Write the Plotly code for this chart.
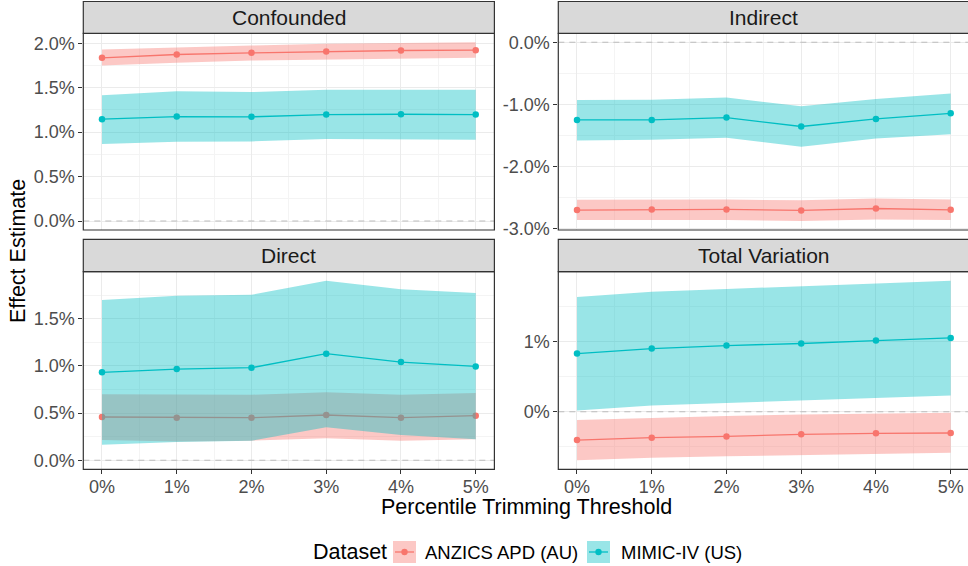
import plotly.graph_objects as go

# ---------------- data (effect estimates in %) ----------------
thresholds = [0, 1, 2, 3, 4, 5]
x_tick_labels = ["0%", "1%", "2%", "3%", "4%", "5%"]
datasets = ["ANZICS APD (AU)", "MIMIC-IV (US)"]
panels = ["Confounded", "Indirect", "Direct", "Total Variation"]

# Confounded
conf_anzics_est = [1.836, 1.873, 1.892, 1.907, 1.918, 1.922]
conf_anzics_lo = [1.750, 1.780, 1.806, 1.817, 1.828, 1.836]
conf_anzics_hi = [1.929, 1.955, 1.974, 1.993, 2.004, 2.011]
conf_mimic_est = [1.146, 1.175, 1.172, 1.198, 1.201, 1.198]
conf_mimic_lo = [0.866, 0.892, 0.896, 0.922, 0.922, 0.914]
conf_mimic_hi = [1.414, 1.459, 1.451, 1.478, 1.478, 1.478]

# Indirect
ind_anzics_est = [-2.702, -2.691, -2.691, -2.707, -2.676, -2.697]
ind_anzics_lo = [-2.862, -2.856, -2.862, -2.878, -2.851, -2.862]
ind_anzics_hi = [-2.537, -2.532, -2.532, -2.543, -2.516, -2.532]
ind_mimic_est = [-1.250, -1.250, -1.213, -1.356, -1.234, -1.144]
ind_mimic_lo = [-1.580, -1.569, -1.537, -1.681, -1.548, -1.479]
ind_mimic_hi = [-0.931, -0.926, -0.888, -1.032, -0.915, -0.824]

# Direct
dir_anzics_est = [0.459, 0.452, 0.452, 0.480, 0.452, 0.473]
dir_anzics_lo = [0.215, 0.200, 0.208, 0.233, 0.208, 0.222]
dir_anzics_hi = [0.699, 0.695, 0.695, 0.720, 0.695, 0.713]
dir_mimic_est = [0.932, 0.967, 0.981, 1.130, 1.041, 0.995]
dir_mimic_lo = [0.166, 0.194, 0.208, 0.349, 0.268, 0.222]
dir_mimic_hi = [1.698, 1.744, 1.754, 1.903, 1.811, 1.772]

# Total Variation
tv_anzics_est = [-0.403, -0.370, -0.351, -0.322, -0.308, -0.303]
tv_anzics_lo = [-0.692, -0.654, -0.635, -0.611, -0.597, -0.583]
tv_anzics_hi = [-0.118, -0.085, -0.062, -0.038, -0.024, -0.014]
tv_mimic_est = [0.829, 0.900, 0.943, 0.972, 1.014, 1.052]
tv_mimic_lo = [0.019, 0.090, 0.128, 0.156, 0.199, 0.232]
tv_mimic_hi = [1.635, 1.711, 1.749, 1.791, 1.834, 1.867]

# y tick labels per panel
conf_ticks = [0.0, 0.5, 1.0, 1.5, 2.0]
conf_tick_labels = ["0.0%", "0.5%", "1.0%", "1.5%", "2.0%"]
ind_ticks = [-3.0, -2.0, -1.0, 0.0]
ind_tick_labels = ["-3.0%", "-2.0%", "-1.0%", "0.0%"]
dir_ticks = [0.0, 0.5, 1.0, 1.5]
dir_tick_labels = ["0.0%", "0.5%", "1.0%", "1.5%"]
tv_ticks = [0.0, 1.0]
tv_tick_labels = ["0%", "1%"]

# ---------------- styling ----------------
W, H = 968, 566
colors = {"ANZICS APD (AU)": "#F8766D", "MIMIC-IV (US)": "#00BFC4"}
fills = {"ANZICS APD (AU)": "rgba(248,118,109,0.4)", "MIMIC-IV (US)": "rgba(0,191,196,0.4)"}
FONT = "Liberation Sans, Arial, sans-serif"

panel_data = {
    "Confounded": {
        "ANZICS APD (AU)": (conf_anzics_est, conf_anzics_lo, conf_anzics_hi),
        "MIMIC-IV (US)": (conf_mimic_est, conf_mimic_lo, conf_mimic_hi),
        "ticks": (conf_ticks, conf_tick_labels),
    },
    "Indirect": {
        "ANZICS APD (AU)": (ind_anzics_est, ind_anzics_lo, ind_anzics_hi),
        "MIMIC-IV (US)": (ind_mimic_est, ind_mimic_lo, ind_mimic_hi),
        "ticks": (ind_ticks, ind_tick_labels),
    },
    "Direct": {
        "ANZICS APD (AU)": (dir_anzics_est, dir_anzics_lo, dir_anzics_hi),
        "MIMIC-IV (US)": (dir_mimic_est, dir_mimic_lo, dir_mimic_hi),
        "ticks": (dir_ticks, dir_tick_labels),
    },
    "Total Variation": {
        "ANZICS APD (AU)": (tv_anzics_est, tv_anzics_lo, tv_anzics_hi),
        "MIMIC-IV (US)": (tv_mimic_est, tv_mimic_lo, tv_mimic_hi),
        "ticks": (tv_ticks, tv_tick_labels),
    },
}

def px(xp):
    return xp / W

def py(yp):
    return 1 - yp / H

x_dom = {"L": [px(83.3), px(494.4)], "R": [px(558.3), 1.0]}
y_dom = {"T": [py(230.0), py(33.3)], "B": [py(469.3), py(271.7)]}
px_per_unit = 74.74
x_range = {"L": [-0.25, 5.25], "R": [-0.25, -0.25 + (W - 558.3) / px_per_unit]}

layout_pos = {
    "Confounded": ("L", "T", 1),
    "Indirect": ("R", "T", 2),
    "Direct": ("L", "B", 3),
    "Total Variation": ("R", "B", 4),
}

fig = go.Figure()
shapes = []
annotations = []

for name in panels:
    col, row, n = layout_pos[name]
    xa = "x" if n == 1 else f"x{n}"
    ya = "y" if n == 1 else f"y{n}"
    d = panel_data[name]
    # lines + points first
    for ds in datasets:
        est, lo, hi = d[ds]
        fig.add_trace(go.Scatter(
            x=thresholds, y=est, mode="lines+markers", xaxis=xa, yaxis=ya,
            line=dict(color=colors[ds], width=1.3),
            marker=dict(color=colors[ds], size=6.5),
            showlegend=False, hoverinfo="skip", cliponaxis=False))
    # ribbons on top
    for ds in datasets:
        est, lo, hi = d[ds]
        fig.add_trace(go.Scatter(
            x=thresholds + thresholds[::-1], y=hi + lo[::-1],
            mode="lines", fill="toself", fillcolor=fills[ds],
            line=dict(width=0, color="rgba(0,0,0,0)"), xaxis=xa, yaxis=ya,
            showlegend=False, hoverinfo="skip"))

    # y range with ggplot-style 5% expansion (incl. the 0 reference line)
    vals = [0.0]
    for ds in datasets:
        for arr in d[ds]:
            vals += list(arr)
    ymin, ymax = min(vals), max(vals)
    span = ymax - ymin
    yr = [ymin - 0.05 * span, ymax + 0.05 * span]

    tvals, ttext = d["ticks"]
    step = tvals[1] - tvals[0]
    minor_vals = []
    k = -10
    while k < 20:
        v = tvals[0] + (k + 0.5) * step
        if yr[0] < v < yr[1]:
            minor_vals.append(v)
        k += 1

    xkey = "xaxis" if n == 1 else f"xaxis{n}"
    ykey = "yaxis" if n == 1 else f"yaxis{n}"
    bottom = row == "B"
    fig.update_layout({
        xkey: dict(
            domain=x_dom[col], range=x_range[col], anchor=ya, automargin=False,
            tickmode="array", tickvals=thresholds, ticktext=x_tick_labels,
            showticklabels=bottom, ticks="outside" if bottom else "",
            ticklen=4, tickwidth=1, tickcolor="#333333", ticklabelstandoff=-3,
            tickfont=dict(family=FONT, size=18, color="#4D4D4D"),
            showgrid=True, gridcolor="#EBEBEB", gridwidth=1.1,
            minor=dict(tickvals=[0.5, 1.5, 2.5, 3.5, 4.5], showgrid=True,
                       gridcolor="#F4F4F4", gridwidth=1, ticklen=0),
            zeroline=False, showline=False, fixedrange=True,
        ),
        ykey: dict(
            domain=y_dom[row], range=yr, anchor=xa, automargin=False,
            tickmode="array", tickvals=tvals, ticktext=ttext,
            ticks="outside", ticklen=4, tickwidth=1, tickcolor="#333333",
            tickfont=dict(family=FONT, size=18, color="#4D4D4D"),
            showgrid=True, gridcolor="#EBEBEB", gridwidth=1.1,
            minor=dict(tickvals=minor_vals, showgrid=True,
                       gridcolor="#F4F4F4", gridwidth=1, ticklen=0),
            zeroline=False, showline=False, fixedrange=True,
        ),
    })

    # dashed zero reference line
    shapes.append(dict(type="line", xref=f"{xa} domain", yref=ya, x0=0, x1=1, y0=0, y1=0,
                       line=dict(color="#BDBDBD", width=1.1, dash="6px,5px"), layer="above"))
    # panel border
    shapes.append(dict(type="rect", xref=f"{xa} domain", yref=f"{ya} domain",
                       x0=0, x1=(1.02 if col == "R" else 1), y0=0, y1=1,
                       line=dict(color="#333333", width=1.2), fillcolor="rgba(0,0,0,0)", layer="above"))
    # strip
    strip_top = {"T": py(1.5), "B": py(239.3)}[row]
    strip_x1 = 1.02 if col == "R" else x_dom[col][1]
    shapes.append(dict(type="rect", xref="paper", yref="paper",
                       x0=x_dom[col][0], x1=strip_x1, y0=y_dom[row][1], y1=strip_top,
                       line=dict(color="#333333", width=1.2), fillcolor="#D9D9D9", layer="above"))
    strip_center_x = (x_dom[col][0] + x_dom[col][0] + 5.5 * px_per_unit / W) / 2
    annotations.append(dict(text=name, xref="paper", yref="paper",
                            x=strip_center_x, y=(y_dom[row][1] + strip_top) / 2,
                            xanchor="center", yanchor="middle", showarrow=False,
                            font=dict(family=FONT, size=21, color="#1A1A1A")))

# axis titles
annotations.append(dict(text="Percentile Trimming Threshold", xref="paper", yref="paper",
                        x=px(526), y=py(507), xanchor="center", yanchor="middle", showarrow=False,
                        font=dict(family=FONT, size=21.5, color="#000000")))
annotations.append(dict(text="Effect Estimate", xref="paper", yref="paper",
                        x=px(18), y=py(251), xanchor="center", yanchor="middle", showarrow=False,
                        textangle=-90, font=dict(family=FONT, size=21.5, color="#000000")))

# legend (drawn manually to mimic the ggplot key)
annotations.append(dict(text="Dataset", xref="paper", yref="paper", x=px(311), y=py(552),
                        xanchor="left", yanchor="middle", showarrow=False,
                        font=dict(family=FONT, size=21.5, color="#000000")))
legend_slots = [(393, 423), (587, 619)]
for ds, (sx, tx) in zip(datasets, legend_slots):
    shapes.append(dict(type="rect", xref="paper", yref="paper", x0=px(sx), x1=px(sx + 23),
                       y0=py(563), y1=py(541), fillcolor=fills[ds], line=dict(width=0)))
    shapes.append(dict(type="line", xref="paper", yref="paper", x0=px(sx + 2), x1=px(sx + 21),
                       y0=py(552), y1=py(552), line=dict(color=colors[ds], width=1.3)))
    shapes.append(dict(type="circle", xref="paper", yref="paper", x0=px(sx + 8.3), x1=px(sx + 14.7),
                       y0=py(555.2), y1=py(548.8), fillcolor=colors[ds], line=dict(width=0)))
    annotations.append(dict(text=ds, xref="paper", yref="paper", x=px(tx), y=py(552),
                            xanchor="left", yanchor="middle", showarrow=False,
                            font=dict(family=FONT, size=18.5, color="#000000")))

fig.update_layout(
    width=W, height=H, margin=dict(l=0, r=0, t=0, b=0, autoexpand=False),
    paper_bgcolor="white", plot_bgcolor="white",
    shapes=shapes, annotations=annotations, showlegend=False,
    font=dict(family=FONT),
)

fig.write_html("out.html", config={"displayModeBar": False},
               post_script="document.body.style.margin='0px';")
